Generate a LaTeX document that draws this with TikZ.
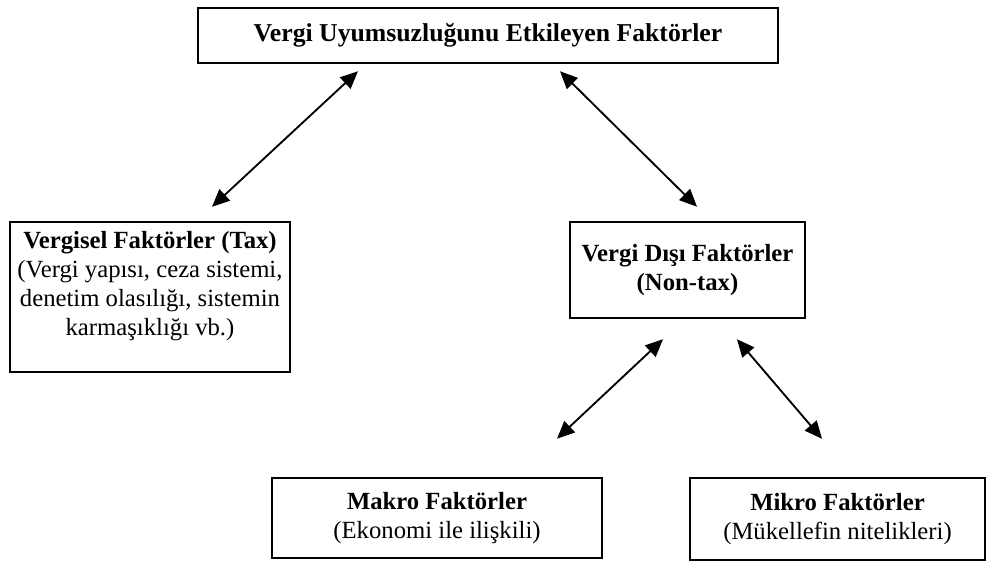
\documentclass[tikz,border=0pt]{standalone}
\usepackage{fontspec}
\setmainfont{Liberation Serif}
\usetikzlibrary{arrows.meta, calc}
\tikzset{
  block/.style={
    rectangle,
    draw,
    draw=black,
    line width=1.2pt,
    align=center,
    font=\fontsize{12pt}{14pt}\selectfont
  }
}
\tikzstyle{twoway} = [{Triangle[length=8.5pt,width=7.5pt]}-{Triangle[length=8.5pt,width=7.5pt]}, line width=0.9pt]
\def\head#1{\textbf{#1}}

\begin{document}
\begin{tikzpicture}[x=0.01707cm, y=-0.01707cm]
    \useasboundingbox (0,0) rectangle (1003,571);
    \node[block, minimum width=9.90cm, minimum height=0.94cm, font=\fontsize{12.5pt}{14pt}\selectfont] (top) at (488, 35.5) {\head{Vergi Uyumsuzluğunu Etkileyen Faktörler}};
    \node[block, minimum width=4.78cm, minimum height=2.56cm, text depth=13pt] (tax) at (150, 297) {\head{Vergisel Faktörler (Tax)}\\(Vergi yapısı, ceza sistemi,\\denetim olasılığı, sistemin\\karmaşıklığı vb.)};
    \node[block, minimum width=4.01cm, minimum height=1.64cm] (nontax) at (687.5, 270) {\head{Vergi Dışı Faktörler}\\\head{(Non-tax)}};
    \node[block, minimum width=5.63cm, minimum height=1.37cm] (makro) at (437, 518) {\head{Makro Faktörler}\\(Ekonomi ile ilişkili)};
    \node[block, minimum width=5.04cm, minimum height=1.40cm] (mikro) at (837.5, 519) {\head{Mikro Faktörler}\\(Mükellefin nitelikleri)};
    \draw[twoway] ($(top.south)+(-130,7)$) to ($(tax.north)+(62,-14)$);
    \draw[twoway] ($(top.south)+(72,7)$) to ($(nontax.north)+(9.5,-14)$);
    \draw[twoway] ($(nontax.south)+(-24.5,20)$) to ($(makro.north)+(120,-38)$);
    \draw[twoway] ($(nontax.south)+(49.5,20)$) to ($(mikro.north)+(-15.5,-38)$);
\end{tikzpicture}
\end{document}
